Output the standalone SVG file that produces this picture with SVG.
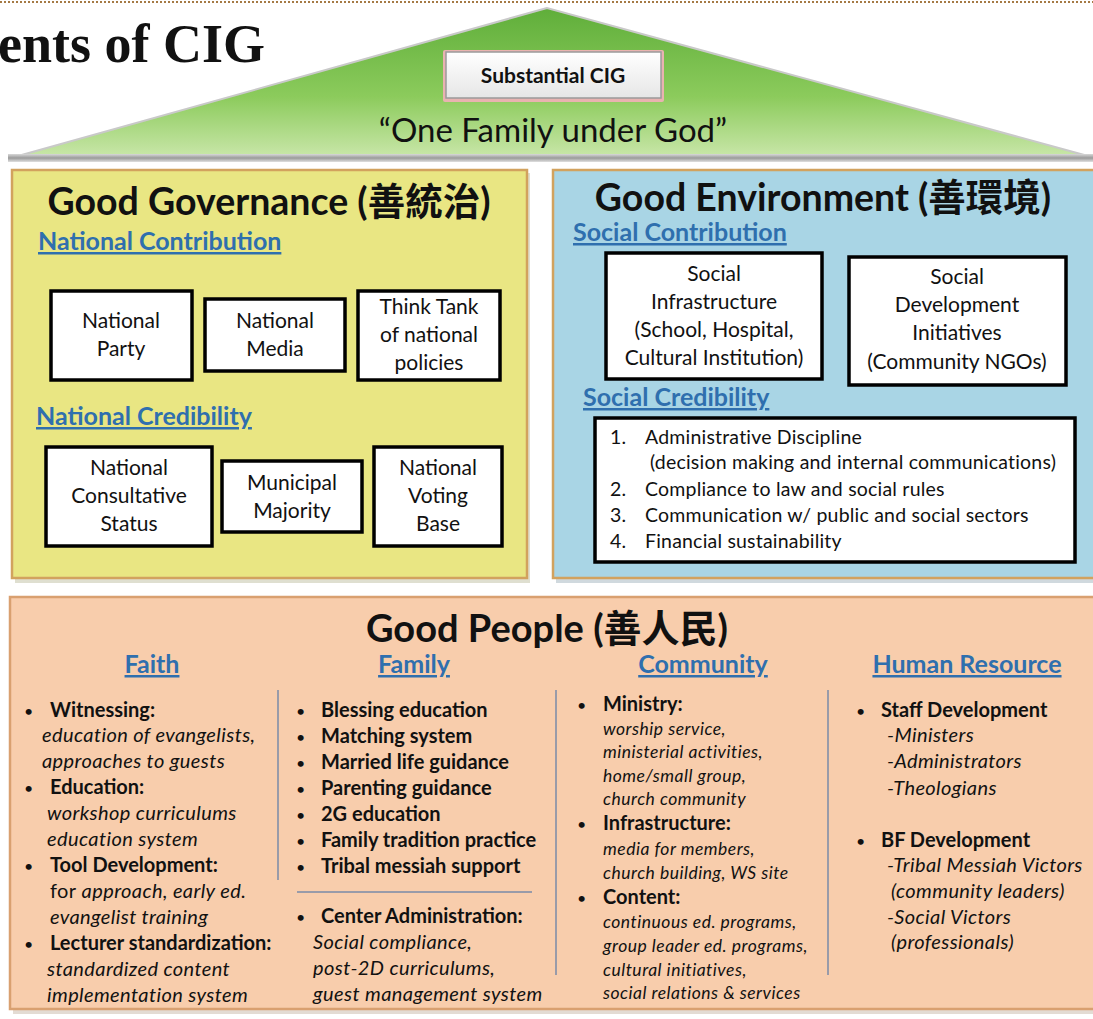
<svg xmlns="http://www.w3.org/2000/svg" width="1093" height="1019" viewBox="0 0 1093 1019">
<defs>
  <linearGradient id="roof" x1="0" y1="0" x2="0" y2="1">
    <stop offset="0" stop-color="#5fae3a"/>
    <stop offset="0.6" stop-color="#8ccb5c"/>
    <stop offset="1" stop-color="#c8e6a8"/>
  </linearGradient>
  <linearGradient id="bar" x1="0" y1="0" x2="0" y2="1">
    <stop offset="0" stop-color="#d8d8d8"/>
    <stop offset="0.5" stop-color="#9a9a9a"/>
    <stop offset="1" stop-color="#e0e0e0"/>
  </linearGradient>
  <linearGradient id="btn" x1="0" y1="0" x2="0" y2="1">
    <stop offset="0" stop-color="#ffffff"/>
    <stop offset="1" stop-color="#e6e6e6"/>
  </linearGradient>
  <style>
    .t{font-family:Lato,"Noto Sans CJK SC",sans-serif;fill:#111}
    .ttl{font-size:37.5px;font-weight:bold}
    .hd{font-size:25px;font-weight:bold;fill:#2f6fae;text-decoration:underline}
    .box{fill:#fff;stroke:#000;stroke-width:3.5}
    .bx{font-size:21px;text-anchor:middle}
    .li{font-size:19.5px;letter-spacing:0.2px}
    .b{font-size:20px;font-weight:bold}
    .i{font-size:20px;font-style:italic;letter-spacing:0.4px}
    .ci{font-size:17.5px;font-style:italic;letter-spacing:0.5px}
    .sep{stroke:#7a8aa8;stroke-width:1.5}
    .dot{font-size:16px}
  </style>
</defs>
<rect width="1093" height="1019" fill="#fff"/>
<line x1="0" y1="2" x2="1093" y2="2" stroke="#a57a45" stroke-width="2" stroke-dasharray="2,2"/>
<text x="-2" y="62" font-family="Liberation Serif,serif" font-weight="bold" font-size="54" fill="#111">ents of CIG</text>

<g id="roof">
  <polygon points="547,8 18,156 1088,156" fill="url(#roof)" stroke="#c9c9c9" stroke-width="2"/>
  <rect x="8" y="154" width="1085" height="8" fill="url(#bar)"/>
  <g id="substantial">
    <rect x="443" y="50" width="221" height="52" fill="#e9b3b0" rx="2"/>
    <rect x="446" y="52" width="215" height="46" fill="url(#btn)" stroke="#9a9a9a" stroke-width="1.5"/>
    <text class="t" x="553" y="83" font-size="21" font-weight="bold" text-anchor="middle">Substantial CIG</text>
  </g>
  <text class="t" x="553" y="142" font-size="33" text-anchor="middle">“One Family under God”</text>
</g>

<g id="governance">
  <rect x="15" y="173" width="515" height="410" fill="#c9c9b0" opacity="0.6"/>
  <rect x="12" y="170" width="515" height="408" fill="#e9e683" stroke="#d2a25e" stroke-width="2.5"/>
  <text class="t ttl" x="269" y="215" text-anchor="middle">Good Governance (善統治)</text>
  <text class="t hd" x="38" y="250">National Contribution</text>
  <g id="g-party"><rect class="box" x="51" y="291" width="141" height="89"/>
    <text class="t bx" x="121" y="328">National</text><text class="t bx" x="121" y="356">Party</text></g>
  <g id="g-media"><rect class="box" x="205" y="299" width="140" height="72"/>
    <text class="t bx" x="275" y="328">National</text><text class="t bx" x="275" y="356">Media</text></g>
  <g id="g-think"><rect class="box" x="358" y="291" width="142" height="89"/>
    <text class="t bx" x="429" y="314">Think Tank</text><text class="t bx" x="429" y="342">of national</text><text class="t bx" x="429" y="370">policies</text></g>
  <text class="t hd" x="36" y="425">National Credibility</text>
  <g id="g-consult"><rect class="box" x="46" y="447" width="166" height="99"/>
    <text class="t bx" x="129" y="475">National</text><text class="t bx" x="129" y="503">Consultative</text><text class="t bx" x="129" y="531">Status</text></g>
  <g id="g-muni"><rect class="box" x="222" y="461" width="140" height="71"/>
    <text class="t bx" x="292" y="490">Municipal</text><text class="t bx" x="292" y="518">Majority</text></g>
  <g id="g-voting"><rect class="box" x="374" y="447" width="128" height="99"/>
    <text class="t bx" x="438" y="475">National</text><text class="t bx" x="438" y="503">Voting</text><text class="t bx" x="438" y="531">Base</text></g>
</g>

<g id="environment">
  <rect x="556" y="173" width="540" height="410" fill="#b0c0c8" opacity="0.6"/>
  <rect x="553" y="170" width="545" height="408" fill="#a9d5e5" stroke="#d2a25e" stroke-width="2.5"/>
  <text class="t ttl" x="823" y="211" text-anchor="middle">Good Environment (善環境)</text>
  <text class="t hd" x="573" y="241">Social Contribution</text>
  <g id="e-infra"><rect class="box" x="606" y="253" width="216" height="126"/>
    <text class="t bx" x="714" y="281">Social</text><text class="t bx" x="714" y="309">Infrastructure</text><text class="t bx" x="714" y="337">(School, Hospital,</text><text class="t bx" x="714" y="365">Cultural Institution)</text></g>
  <g id="e-dev"><rect class="box" x="849" y="257" width="217" height="128"/>
    <text class="t bx" x="957" y="284">Social</text><text class="t bx" x="957" y="312">Development</text><text class="t bx" x="957" y="340">Initiatives</text><text class="t bx" x="957" y="369">(Community NGOs)</text></g>
  <text class="t hd" x="583" y="406">Social Credibility</text>
  <g id="e-cred"><rect class="box" x="595" y="418" width="480" height="144"/>
    <text class="t li" x="610" y="444">1.</text><text class="t li" x="645" y="444">Administrative Discipline</text>
    <text class="t li" x="650" y="469">(decision making and internal communications)</text>
    <text class="t li" x="610" y="496">2.</text><text class="t li" x="645" y="496">Compliance to law and social rules</text>
    <text class="t li" x="610" y="522">3.</text><text class="t li" x="645" y="522">Communication w/ public and social sectors</text>
    <text class="t li" x="610" y="548">4.</text><text class="t li" x="645" y="548">Financial sustainability</text></g>
</g>

<g id="people">
  <rect x="13" y="600" width="1085" height="414" fill="#c8b8a8" opacity="0.5"/>
  <rect x="10" y="597" width="1088" height="412" fill="#f8cdac" stroke="#d9a070" stroke-width="2.5"/>
  <text class="t" x="547" y="642" font-size="38" font-weight="bold" text-anchor="middle">Good People (善人民)</text>
  <text class="t hd" x="152" y="673" text-anchor="middle">Faith</text>
  <text class="t hd" x="414" y="673" text-anchor="middle">Family</text>
  <text class="t hd" x="703" y="673" text-anchor="middle">Community</text>
  <text class="t hd" x="967" y="673" text-anchor="middle">Human Resource</text>
  <g id="seps">
    <line class="sep" x1="278" y1="690" x2="278" y2="880"/>
    <line class="sep" x1="556" y1="690" x2="556" y2="975"/>
    <line class="sep" x1="828" y1="690" x2="828" y2="975"/>
    <line class="sep" x1="297" y1="892" x2="532" y2="892"/>
  </g>
  <g id="col-faith">
    <text class="t dot" x="24" y="717">•</text><text class="t b" x="50" y="717">Witnessing:</text>
    <text class="t i" x="42" y="742">education of evangelists,</text>
    <text class="t i" x="42" y="768">approaches to guests</text>
    <text class="t dot" x="24" y="794">•</text><text class="t b" x="50" y="794">Education:</text>
    <text class="t i" x="47" y="820">workshop curriculums</text>
    <text class="t i" x="47" y="846">education system</text>
    <text class="t dot" x="24" y="872">•</text><text class="t b" x="50" y="872">Tool Development:</text>
    <text class="t i" x="50" y="898"><tspan font-style="normal">for </tspan>approach, early ed.</text>
    <text class="t i" x="50" y="924">evangelist training</text>
    <text class="t dot" x="24" y="950">•</text><text class="t b" x="50" y="950">Lecturer standardization:</text>
    <text class="t i" x="47" y="976">standardized content</text>
    <text class="t i" x="47" y="1002">implementation system</text>
  </g>
  <g id="col-family">
    <text class="t dot" x="296" y="717">•</text><text class="t b" x="321" y="717">Blessing education</text>
    <text class="t dot" x="296" y="743">•</text><text class="t b" x="321" y="743">Matching system</text>
    <text class="t dot" x="296" y="769">•</text><text class="t b" x="321" y="769">Married life guidance</text>
    <text class="t dot" x="296" y="795">•</text><text class="t b" x="321" y="795">Parenting guidance</text>
    <text class="t dot" x="296" y="821">•</text><text class="t b" x="321" y="821">2G education</text>
    <text class="t dot" x="296" y="847">•</text><text class="t b" x="321" y="847">Family tradition practice</text>
    <text class="t dot" x="296" y="873">•</text><text class="t b" x="321" y="873">Tribal messiah support</text>
    <text class="t dot" x="296" y="923">•</text><text class="t b" x="321" y="923">Center Administration:</text>
    <text class="t i" x="313" y="949">Social compliance,</text>
    <text class="t i" x="313" y="975">post-2D curriculums,</text>
    <text class="t i" x="313" y="1001">guest management system</text>
  </g>
  <g id="col-community">
    <text class="t dot" x="577" y="711">•</text><text class="t b" x="603" y="711">Ministry:</text>
    <text class="t ci" x="603" y="735">worship service,</text>
    <text class="t ci" x="603" y="758">ministerial activities,</text>
    <text class="t ci" x="603" y="782">home/small group,</text>
    <text class="t ci" x="603" y="805">church community</text>
    <text class="t dot" x="577" y="830">•</text><text class="t b" x="603" y="830">Infrastructure:</text>
    <text class="t ci" x="603" y="855">media for members,</text>
    <text class="t ci" x="603" y="879">church building, WS site</text>
    <text class="t dot" x="577" y="904">•</text><text class="t b" x="603" y="904">Content:</text>
    <text class="t ci" x="603" y="928">continuous ed. programs,</text>
    <text class="t ci" x="603" y="952">group leader ed. programs,</text>
    <text class="t ci" x="603" y="976">cultural initiatives,</text>
    <text class="t ci" x="603" y="999">social relations &amp; services</text>
  </g>
  <g id="col-hr">
    <text class="t dot" x="856" y="717">•</text><text class="t b" x="881" y="717">Staff Development</text>
    <text class="t i" x="887" y="742">-Ministers</text>
    <text class="t i" x="887" y="768">-Administrators</text>
    <text class="t i" x="887" y="795">-Theologians</text>
    <text class="t dot" x="856" y="847">•</text><text class="t b" x="881" y="847">BF Development</text>
    <text class="t i" x="887" y="872">-Tribal Messiah Victors</text>
    <text class="t i" x="891" y="898">(community leaders)</text>
    <text class="t i" x="887" y="924">-Social Victors</text>
    <text class="t i" x="891" y="949">(professionals)</text>
  </g>
</g>
</svg>
